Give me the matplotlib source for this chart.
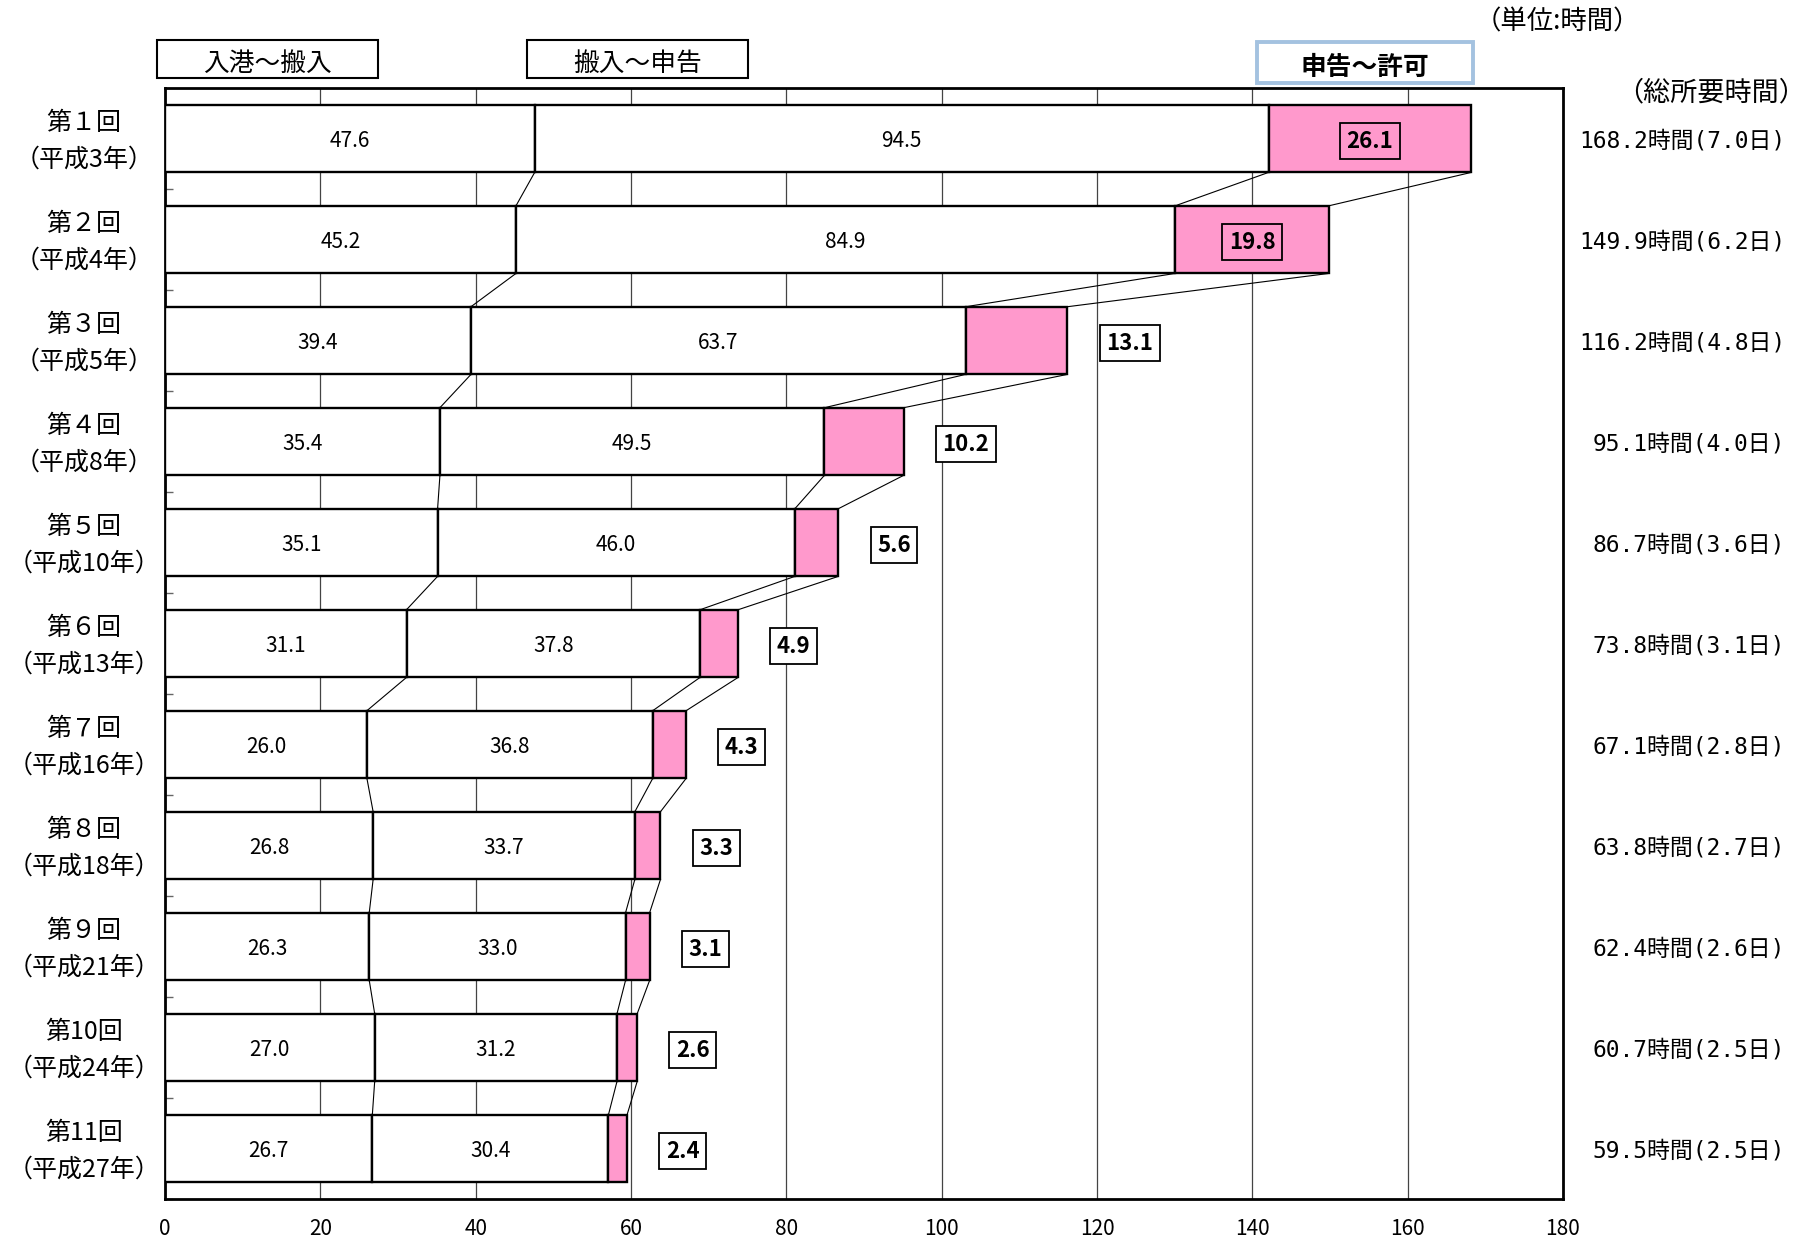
import matplotlib.pyplot as plt
from matplotlib.patches import Rectangle

plt.rcParams['font.family'] = ['Noto Sans CJK JP', 'DejaVu Sans']

# data (hours)
rounds = ['第１回\n（平成3年）', '第２回\n（平成4年）', '第３回\n（平成5年）', '第４回\n（平成8年）',
          '第５回\n（平成10年）', '第６回\n（平成13年）', '第７回\n（平成16年）', '第８回\n（平成18年）',
          '第９回\n（平成21年）', '第10回\n（平成24年）', '第11回\n（平成27年）']
entry_to_carry = [47.6, 45.2, 39.4, 35.4, 35.1, 31.1, 26.0, 26.8, 26.3, 27.0, 26.7]
carry_to_declare = [94.5, 84.9, 63.7, 49.5, 46.0, 37.8, 36.8, 33.7, 33.0, 31.2, 30.4]
declare_to_permit = [26.1, 19.8, 13.1, 10.2, 5.6, 4.9, 4.3, 3.3, 3.1, 2.6, 2.4]
total_hours = [168.2, 149.9, 116.2, 95.1, 86.7, 73.8, 67.1, 63.8, 62.4, 60.7, 59.5]
total_days = [7.0, 6.2, 4.8, 4.0, 3.6, 3.1, 2.8, 2.7, 2.6, 2.5, 2.5]

pink = '#FF99CC'
h = 0.67
dy = 0.025  # small nudge so CJK-font text sits on the bar centre

fig = plt.figure(figsize=(18.13, 12.42), dpi=100)
ax = fig.add_axes([0.0910, 0.0346, 0.7711, 0.8945])

y = list(range(len(rounds)))
left2 = entry_to_carry
left3 = [a + b for a, b in zip(entry_to_carry, carry_to_declare)]
ends = [a + b for a, b in zip(left3, declare_to_permit)]

ax.barh(y, entry_to_carry, height=h, color='white', edgecolor='black', linewidth=1.7, zorder=3)
ax.barh(y, carry_to_declare, left=left2, height=h, color='white', edgecolor='black', linewidth=1.7, zorder=3)
ax.barh(y, declare_to_permit, left=left3, height=h, color=pink, edgecolor='black', linewidth=1.7, zorder=3)

# connector lines between rows
for i in range(len(y) - 1):
    for xs in (left2, left3, ends):
        ax.plot([xs[i], xs[i + 1]], [y[i] + h / 2, y[i + 1] - h / 2], color='black', lw=0.8, zorder=2)

# value labels
for i in y:
    ax.text(entry_to_carry[i] / 2, i + dy, f'{entry_to_carry[i]:.1f}', ha='center', va='center',
            fontsize=15, zorder=4)
    ax.text(left2[i] + carry_to_declare[i] / 2, i + dy, f'{carry_to_declare[i]:.1f}', ha='center',
            va='center', fontsize=15, zorder=4)
    box = dict(boxstyle='square,pad=0.3', fc='white' if i > 1 else pink, ec='black', lw=1.3)
    if i <= 1:
        ax.text(left3[i] + declare_to_permit[i] / 2, i + dy, f'{declare_to_permit[i]:.1f}', ha='center',
                va='center', fontsize=16, fontweight='bold', bbox=box, zorder=4)
    else:
        ax.text(ends[i] + 5.0, i + dy, f'{declare_to_permit[i]:.1f}', ha='left', va='center',
                fontsize=16, fontweight='bold', bbox=box, zorder=4)

ax.set_xlim(0, 180)
ax.set_ylim(len(y) - 0.5, -0.5)
ax.set_xticks(range(0, 181, 20))
ax.xaxis.grid(True, color='#444444', lw=0.9, zorder=0)
ax.set_axisbelow(True)
ax.tick_params(axis='x', length=0, pad=14, labelsize=15)
ax.set_yticks([i + 0.5 for i in y])
ax.set_yticklabels([])
ax.tick_params(axis='y', direction='in', length=6, width=1, color='#666666')
for s in ax.spines.values():
    s.set_linewidth(2.0)

fig.canvas.draw()
for i in y:
    fy = fig.transFigure.inverted().transform(ax.transData.transform((0, i)))[1]
    fig.text(0.0463, fy - 0.002, rounds[i], ha='center', va='center', fontsize=18, linespacing=1.55)
    fig.text(0.9846, fy - 0.002, f'{total_hours[i]:.1f}時間({total_days[i]:.1f}日)', ha='right',
             va='center', fontsize=16.5, family=['DejaVu Sans Mono', 'Noto Sans CJK JP'])

# legend boxes on top
for (x0, y0, w, hh), label, ec, lw, bold in [
        ((0.0866, 0.9372, 0.1219, 0.0306), '入港～搬入', 'black', 1.5, False),
        ((0.2907, 0.9372, 0.1219, 0.0306), '搬入～申告', 'black', 1.5, False),
        ((0.6933, 0.9332, 0.1191, 0.0330), '申告～許可', '#A4C2E0', 2.8, True)]:
    fig.patches.append(Rectangle((x0, y0), w, hh, transform=fig.transFigure,
                                 fc='white', ec=ec, lw=lw))
    fig.text(x0 + w / 2, y0 + hh / 2 - 0.004, label, ha='center', va='center', fontsize=18.5,
             fontweight='bold' if bold else 'normal')

fig.text(0.9046, 0.982, '（単位:時間）', ha='right', va='center', fontsize=19)
fig.text(0.944, 0.925, '（総所要時間）', ha='center', va='center', fontsize=19.5)

fig.savefig('out.png', dpi=100)
